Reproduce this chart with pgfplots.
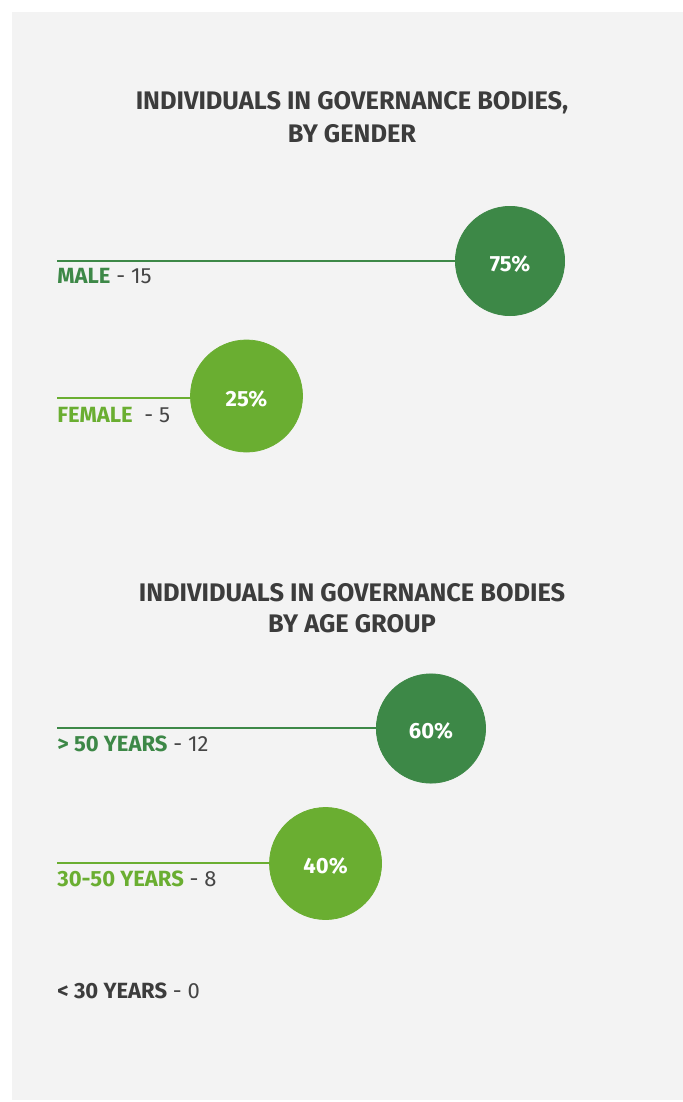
\documentclass[border=0pt]{standalone}
\usepackage{fontspec}
\setmainfont{Fira Sans}
\usepackage{pgfplots}
\pgfplotsset{compat=1.18}
\definecolor{bg}{HTML}{F3F3F3}
\definecolor{dkgreen}{HTML}{3D8847}
\definecolor{ltgreen}{HTML}{6AAE31}
\definecolor{ink}{HTML}{3C3C3C}
\definecolor{num}{HTML}{454545}
% x = share in percent, y = row position (picture pixels, downward)
\newcommand{\titlefont}{\bfseries\fontsize{12.7}{14}\selectfont}
\newcommand{\labfont}{\fontsize{11}{12}\selectfont}
\begin{document}
\begin{tikzpicture}
\begin{axis}[at={(0,0)}, anchor=south west, scale only axis,
  width=341.5pt, height=551pt,
  xmin=-21.774, xmax=107.827, ymin=0, ymax=1102, y dir=reverse,
  hide axis, clip=false,
  pct/.style={only marks, mark=*, mark size=#1,
    point meta=explicit symbolic, nodes near coords,
    every node near coord/.append style={anchor=center, yshift=-1.5pt,
      text=white, font=\bfseries\fontsize{11}{12}\selectfont}}]
\fill[white] (axis cs:-21.774,0) rectangle (axis cs:107.827,1102);
\fill[bg] (axis cs:-19.5,12) rectangle (axis cs:107.827,1100);

% titles
\node[anchor=base, font=\titlefont, text=ink] at (axis cs:45.02,110) {INDIVIDUALS IN GOVERNANCE BODIES,};
\node[anchor=base, font=\titlefont, text=ink] at (axis cs:45.02,142) {BY GENDER};
\node[anchor=base, font=\titlefont, text=ink] at (axis cs:45.02,601) {INDIVIDUALS IN GOVERNANCE BODIES};
\node[anchor=base, font=\titlefont, text=ink] at (axis cs:45.02,632) {BY AGE GROUP};

% gender
\addplot[dkgreen, line width=1.4pt] coordinates {(-10.958,261) (75,261)};
\addplot[dkgreen, pct=27.3pt, mark options={fill=dkgreen, draw=dkgreen, line width=0.4pt}] coordinates {(75,261) [75\%]};
\addplot[ltgreen, line width=1.4pt] coordinates {(-10.958,398) (25,398)};
\addplot[ltgreen, pct=28pt, mark options={fill=ltgreen, draw=ltgreen, line width=0.4pt}] coordinates {(25,396) [25\%]};

% age
\addplot[dkgreen, line width=1.4pt] coordinates {(-10.958,728) (60,728)};
\addplot[dkgreen, pct=27.3pt, mark options={fill=dkgreen, draw=dkgreen, line width=0.4pt}] coordinates {(60,728.5) [60\%]};
\addplot[ltgreen, line width=1.4pt] coordinates {(-10.958,863) (40,863)};
\addplot[ltgreen, pct=28pt, mark options={fill=ltgreen, draw=ltgreen, line width=0.4pt}] coordinates {(40,863.5) [40\%]};

% labels
\node[anchor=base west, font=\labfont, inner sep=0pt] at (axis cs:-10.958,283) {\textcolor{dkgreen}{\bfseries MALE}\ \textcolor{num}{- 15}};
\node[anchor=base west, font=\labfont, inner sep=0pt] at (axis cs:-10.958,422) {\textcolor{ltgreen}{\bfseries FEMALE}\ \ \textcolor{num}{- 5}};
\node[anchor=base west, font=\labfont, inner sep=0pt] at (axis cs:-10.958,751) {\textcolor{dkgreen}{\bfseries > 50 YEARS}\ \textcolor{num}{- 12}};
\node[anchor=base west, font=\labfont, inner sep=0pt] at (axis cs:-10.958,886) {\textcolor{ltgreen}{\bfseries 30-50 YEARS}\ \textcolor{num}{- 8}};
\node[anchor=base west, font=\labfont, inner sep=0pt] at (axis cs:-10.958,998) {\textcolor{ink}{\bfseries < 30 YEARS}\ \textcolor{num}{- 0}};
\end{axis}
\end{tikzpicture}
\end{document}
